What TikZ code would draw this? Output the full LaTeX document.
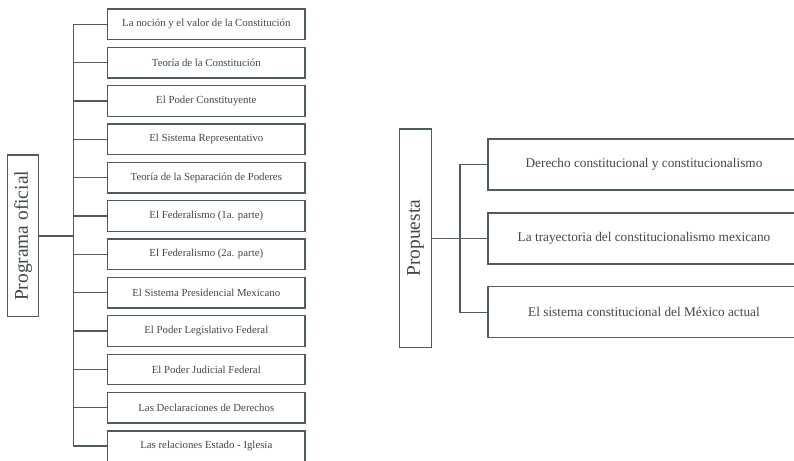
\documentclass[tikz,border=0pt]{standalone}
\usepackage{fontspec}
\setmainfont{Liberation Serif}
\definecolor{linec}{RGB}{78,94,84}
\definecolor{textc}{RGB}{62,74,66}
\begin{document}
\begin{tikzpicture}[x=1pt,y=-1pt,
  every node/.style={inner sep=0pt, outer sep=0pt},
  lbox/.style={draw=linec, line width=1.3pt, fill=white, minimum width=197.5pt, minimum height=30.5pt, text=textc, font=\fontsize{10.8}{12}\selectfont},
  rbox/.style={draw=linec, line width=1.3pt, fill=white, minimum width=312pt, minimum height=51pt, text=textc, font=\fontsize{13.3}{15}\selectfont},
  vbox/.style={draw=linec, line width=1.3pt, fill=white, text=textc, font=\fontsize{19.4}{22}\selectfont},
  conn/.style={draw=linec, line width=1.3pt}]
\path[use as bounding box, clip] (0,0) rectangle (794,460);
\fill[white] (0,0) rectangle (794,460);
% left part
\node[vbox, minimum width=31pt, minimum height=161.7pt] (po) at (23.2,235.9) {\rotatebox{90}{Programa oficial}};
\coordinate (sp) at (73.3,0);
\foreach \t [count=\i from 0] in {La noción y el valor de la Constitución,Teoría de la Constitución,El Poder Constituyente,El Sistema Representativo,Teoría de la Separación de Poderes,El Federalismo (1a. parte),El Federalismo (2a. parte),El Sistema Presidencial Mexicano,El Poder Legislativo Federal,El Poder Judicial Federal,Las Declaraciones de Derechos,Las relaciones Estado - Iglesia}{
  \node[lbox] (b\i) at (206.3,24.25+38.35*\i) {\t};
  \draw[conn] (b\i.west) -- (b\i.west -| sp);
}
\draw[conn, line cap=rect] (b0.west -| sp) -- (b11.west -| sp);
\draw[conn] (po.east) -- (po.east -| sp);
% right part
\node[vbox, minimum width=32.4pt, minimum height=218.3pt] (pr) at (415.5,238.2) {\rotatebox{90}{Propuesta}};
\coordinate (rs) at (460,0);
\node[rbox] (r0) at (644,164.5) {Derecho constitucional y constitucionalismo};
\node[rbox] (r1) at (644,238.4) {La trayectoria del constitucionalismo mexicano};
\node[rbox] (r2) at (644,312.2) {El sistema constitucional del México actual};
\foreach \i in {0,1,2}{\draw[conn] (r\i.west) -- (r\i.west -| rs);}
\draw[conn, line cap=rect] (r0.west -| rs) -- (r2.west -| rs);
\draw[conn] (pr.east) -- (pr.east -| rs);
\end{tikzpicture}
\end{document}
